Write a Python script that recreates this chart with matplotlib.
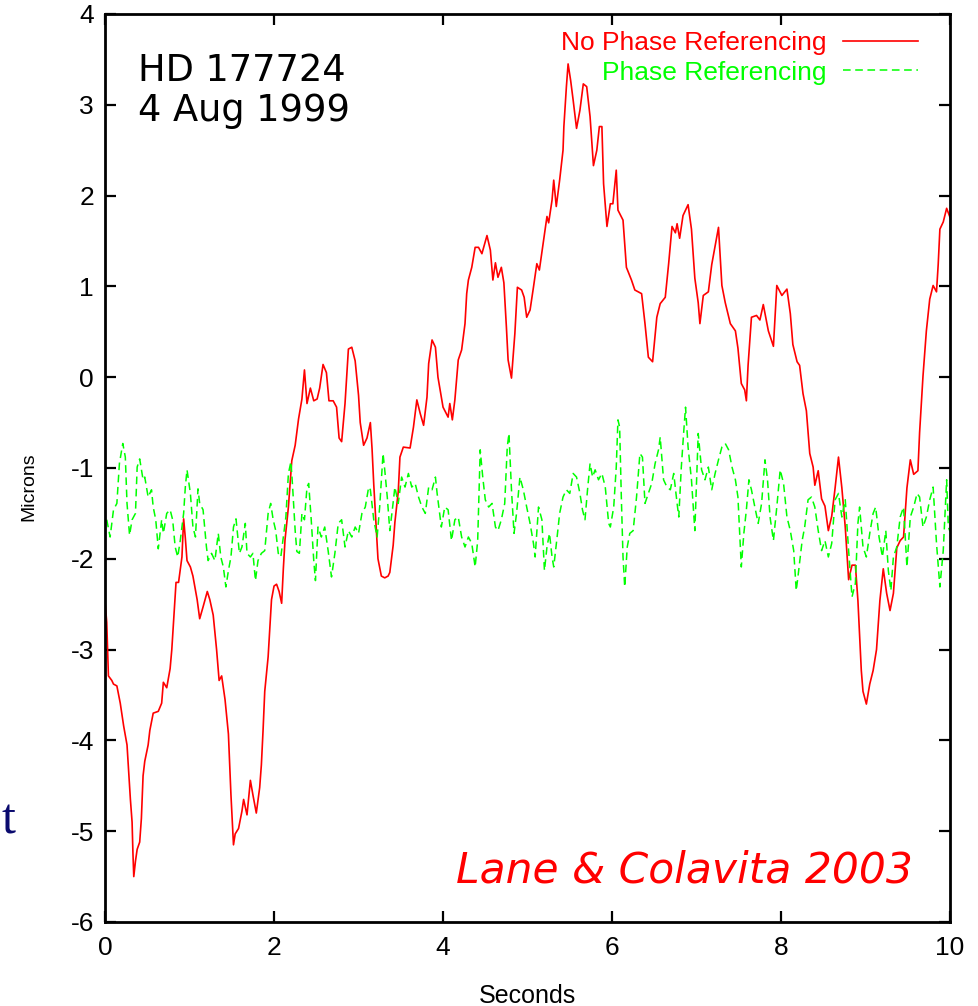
import matplotlib
matplotlib.use('Agg')
import matplotlib.pyplot as plt
import numpy as np

plt.rcParams['axes.unicode_minus'] = False
plt.rcParams['font.family'] = ['Liberation Sans', 'DejaVu Sans']

# optical path difference, no phase referencing (seconds, microns)
t_nopr = [0.00, 0.02, 0.04, 0.08, 0.10, 0.14, 0.18, 0.22, 0.26, 0.28, 0.30, 0.32, 0.33, 0.34,
          0.36, 0.38, 0.41, 0.43, 0.45, 0.47, 0.51, 0.53, 0.57, 0.63, 0.67, 0.69, 0.73, 0.77,
          0.79, 0.81, 0.84, 0.87, 0.91, 0.93, 0.95, 0.97, 1.01, 1.04, 1.09, 1.12, 1.16, 1.21,
          1.24, 1.28, 1.32, 1.35, 1.38, 1.42, 1.46, 1.49, 1.52, 1.54, 1.58, 1.62, 1.64, 1.68,
          1.72, 1.75, 1.79, 1.83, 1.85, 1.87, 1.89, 1.93, 1.97, 2.00, 2.03, 2.06, 2.09, 2.11,
          2.13, 2.17, 2.19, 2.21, 2.25, 2.29, 2.33, 2.36, 2.39, 2.43, 2.47, 2.51, 2.54, 2.58,
          2.62, 2.65, 2.70, 2.74, 2.77, 2.80, 2.84, 2.88, 2.92, 2.96, 3.00, 3.02, 3.06, 3.10,
          3.14, 3.16, 3.18, 3.21, 3.23, 3.27, 3.31, 3.35, 3.37, 3.41, 3.43, 3.47, 3.49, 3.53,
          3.61, 3.65, 3.69, 3.73, 3.77, 3.81, 3.83, 3.87, 3.91, 3.94, 4.00, 4.06, 4.08, 4.11,
          4.14, 4.18, 4.22, 4.26, 4.28, 4.30, 4.34, 4.38, 4.42, 4.46, 4.52, 4.56, 4.59, 4.62,
          4.65, 4.69, 4.72, 4.75, 4.77, 4.81, 4.85, 4.88, 4.93, 4.96, 4.99, 5.03, 5.07, 5.11,
          5.14, 5.19, 5.23, 5.25, 5.29, 5.31, 5.34, 5.38, 5.42, 5.43, 5.46, 5.48, 5.51, 5.54,
          5.58, 5.62, 5.66, 5.70, 5.74, 5.78, 5.82, 5.85, 5.88, 5.90, 5.94, 5.98, 6.01, 6.05,
          6.07, 6.13, 6.17, 6.23, 6.27, 6.35, 6.39, 6.43, 6.48, 6.53, 6.57, 6.63, 6.67, 6.71,
          6.75, 6.77, 6.80, 6.84, 6.90, 6.94, 6.98, 7.02, 7.04, 7.08, 7.14, 7.18, 7.26, 7.30,
          7.34, 7.40, 7.46, 7.49, 7.53, 7.57, 7.59, 7.61, 7.65, 7.71, 7.75, 7.79, 7.85, 7.91,
          7.95, 8.01, 8.07, 8.11, 8.14, 8.19, 8.22, 8.26, 8.30, 8.34, 8.38, 8.40, 8.44, 8.48,
          8.52, 8.56, 8.60, 8.64, 8.68, 8.72, 8.76, 8.80, 8.84, 8.88, 8.91, 8.95, 8.97, 9.01,
          9.05, 9.09, 9.13, 9.17, 9.21, 9.25, 9.29, 9.33, 9.37, 9.41, 9.45, 9.49, 9.53, 9.57,
          9.62, 9.64, 9.68, 9.72, 9.76, 9.80, 9.84, 9.86, 9.88, 9.92, 9.96, 10.00]
y_nopr = [-2.47, -2.70, -3.29, -3.34, -3.38, -3.40, -3.59, -3.84, -4.05, -4.35, -4.65, -4.90, -5.24, -5.50,
          -5.33, -5.20, -5.12, -4.86, -4.39, -4.23, -4.05, -3.89, -3.70, -3.68, -3.59, -3.36, -3.42, -3.21,
          -3.00, -2.70, -2.26, -2.26, -1.98, -1.56, -1.77, -2.02, -2.09, -2.19, -2.45, -2.66, -2.53, -2.36,
          -2.45, -2.62, -3.00, -3.34, -3.29, -3.55, -3.93, -4.60, -5.15, -5.03, -4.97, -4.78, -4.65, -4.82,
          -4.44, -4.60, -4.80, -4.52, -4.27, -3.89, -3.46, -3.08, -2.45, -2.30, -2.28, -2.36, -2.49, -2.11,
          -1.79, -1.43, -1.18, -0.92, -0.75, -0.46, -0.24, 0.08, -0.29, -0.12, -0.26, -0.24, -0.12, 0.14,
          0.05, -0.26, -0.26, -0.33, -0.67, -0.71, -0.29, 0.31, 0.33, 0.18, -0.20, -0.50, -0.75, -0.67,
          -0.50, -0.79, -1.18, -1.68, -2.00, -2.19, -2.21, -2.19, -2.15, -1.85, -1.60, -1.26, -0.88, -0.77,
          -0.78, -0.55, -0.25, -0.40, -0.53, -0.22, 0.15, 0.41, 0.33, 0.00, -0.33, -0.44, -0.29, -0.47,
          -0.25, 0.19, 0.30, 0.59, 0.92, 1.07, 1.21, 1.43, 1.43, 1.36, 1.56, 1.40, 1.07, 1.26,
          1.10, 1.21, 1.04, 0.55, 0.19, -0.01, 0.48, 0.99, 0.96, 0.88, 0.66, 0.74, 0.99, 1.25,
          1.18, 1.51, 1.77, 1.70, 1.95, 2.17, 1.88, 2.17, 2.50, 2.76, 3.20, 3.45, 3.27, 3.05,
          2.74, 2.94, 3.23, 3.20, 2.87, 2.33, 2.50, 2.76, 2.76, 2.13, 1.66, 1.91, 1.91, 2.28,
          1.84, 1.73, 1.21, 1.07, 0.96, 0.92, 0.59, 0.22, 0.17, 0.66, 0.81, 0.88, 1.25, 1.66,
          1.59, 1.69, 1.53, 1.78, 1.90, 1.63, 1.09, 0.82, 0.59, 0.90, 0.94, 1.24, 1.65, 1.01,
          0.82, 0.59, 0.51, 0.32, -0.07, -0.14, -0.26, 0.13, 0.66, 0.68, 0.63, 0.80, 0.51, 0.34,
          1.01, 0.90, 0.97, 0.70, 0.36, 0.17, 0.13, -0.18, -0.37, -0.84, -0.99, -1.19, -1.03, -1.34,
          -1.42, -1.69, -1.53, -1.22, -0.88, -1.22, -1.65, -2.23, -2.07, -2.07, -2.46, -3.23, -3.46, -3.60,
          -3.38, -3.23, -3.00, -2.46, -2.11, -2.38, -2.57, -2.38, -1.88, -1.80, -1.76, -1.22, -0.91, -1.07,
          -1.03, -0.61, 0.01, 0.51, 0.86, 1.01, 0.94, 1.24, 1.63, 1.71, 1.86, 1.76]

# with phase referencing
t_pr = [0.02, 0.06, 0.10, 0.14, 0.17, 0.21, 0.24, 0.26, 0.29, 0.32, 0.36, 0.38, 0.41, 0.45,
        0.47, 0.51, 0.55, 0.57, 0.60, 0.63, 0.67, 0.69, 0.73, 0.77, 0.80, 0.83, 0.86, 0.89,
        0.93, 0.95, 0.97, 1.01, 1.04, 1.07, 1.10, 1.12, 1.16, 1.20, 1.22, 1.26, 1.30, 1.34,
        1.37, 1.40, 1.43, 1.46, 1.49, 1.52, 1.55, 1.59, 1.62, 1.66, 1.68, 1.72, 1.75, 1.78,
        1.81, 1.85, 1.89, 1.93, 1.96, 1.99, 2.02, 2.05, 2.08, 2.11, 2.14, 2.17, 2.20, 2.22,
        2.25, 2.27, 2.30, 2.33, 2.36, 2.39, 2.41, 2.44, 2.47, 2.49, 2.52, 2.56, 2.60, 2.64,
        2.68, 2.72, 2.76, 2.80, 2.84, 2.88, 2.92, 2.96, 3.00, 3.04, 3.08, 3.12, 3.14, 3.18,
        3.22, 3.25, 3.29, 3.31, 3.34, 3.37, 3.40, 3.43, 3.47, 3.51, 3.55, 3.59, 3.63, 3.67,
        3.71, 3.75, 3.79, 3.83, 3.87, 3.91, 3.93, 3.98, 4.02, 4.06, 4.10, 4.14, 4.18, 4.22,
        4.26, 4.30, 4.34, 4.38, 4.41, 4.44, 4.47, 4.50, 4.54, 4.58, 4.62, 4.65, 4.69, 4.73,
        4.76, 4.78, 4.81, 4.84, 4.87, 4.91, 4.95, 4.99, 5.03, 5.07, 5.09, 5.13, 5.17, 5.20,
        5.23, 5.26, 5.29, 5.31, 5.35, 5.38, 5.42, 5.46, 5.50, 5.54, 5.58, 5.62, 5.65, 5.68,
        5.71, 5.74, 5.77, 5.80, 5.84, 5.88, 5.92, 5.96, 5.98, 6.02, 6.05, 6.07, 6.09, 6.11,
        6.13, 6.15, 6.18, 6.21, 6.25, 6.29, 6.33, 6.36, 6.39, 6.43, 6.47, 6.51, 6.55, 6.57,
        6.61, 6.65, 6.69, 6.73, 6.77, 6.79, 6.82, 6.85, 6.87, 6.90, 6.94, 6.98, 7.02, 7.06,
        7.10, 7.14, 7.18, 7.22, 7.26, 7.30, 7.34, 7.38, 7.42, 7.46, 7.49, 7.53, 7.56, 7.59,
        7.62, 7.65, 7.69, 7.73, 7.77, 7.81, 7.84, 7.87, 7.91, 7.95, 7.99, 8.03, 8.07, 8.11,
        8.15, 8.18, 8.20, 8.25, 8.28, 8.32, 8.36, 8.40, 8.44, 8.48, 8.52, 8.56, 8.60, 8.64,
        8.68, 8.72, 8.76, 8.80, 8.84, 8.88, 8.91, 8.93, 8.97, 9.01, 9.05, 9.09, 9.12, 9.16,
        9.20, 9.24, 9.27, 9.30, 9.33, 9.37, 9.41, 9.45, 9.49, 9.53, 9.57, 9.61, 9.64, 9.68,
        9.72, 9.76, 9.80, 9.84, 9.88, 9.92, 9.96, 9.98, 10.00]
y_pr = [-1.57, -1.76, -1.46, -1.39, -0.95, -0.73, -0.88, -1.39, -1.74, -1.57, -1.50, -0.99, -0.90, -1.13,
        -1.10, -1.32, -1.24, -1.43, -1.57, -1.89, -1.57, -1.72, -1.50, -1.46, -1.57, -1.87, -1.98, -1.80,
        -1.50, -1.21, -1.02, -1.28, -1.65, -1.76, -1.23, -1.39, -1.46, -1.87, -2.02, -1.94, -2.02, -1.72,
        -1.98, -2.09, -2.31, -2.13, -1.98, -1.65, -1.56, -1.94, -1.87, -1.61, -1.94, -1.98, -1.94, -2.24,
        -2.02, -1.94, -1.91, -1.50, -1.39, -1.57, -1.69, -1.94, -1.98, -1.76, -1.54, -1.06, -0.93, -1.21,
        -1.69, -1.92, -1.94, -1.50, -1.57, -1.21, -1.17, -1.57, -2.02, -2.24, -1.65, -1.76, -1.65, -1.91,
        -2.20, -1.94, -1.61, -1.57, -1.87, -1.69, -1.76, -1.65, -1.72, -1.50, -1.43, -1.21, -1.24, -1.57,
        -1.76, -1.43, -0.84, -1.02, -1.32, -1.69, -1.46, -1.21, -1.39, -1.10, -1.21, -1.06, -1.21, -1.17,
        -1.32, -1.43, -1.50, -1.21, -1.24, -1.10, -1.28, -1.65, -1.43, -1.46, -1.80, -1.57, -1.54, -1.76,
        -1.87, -1.76, -1.83, -2.09, -1.80, -0.80, -1.10, -1.35, -1.43, -1.39, -1.65, -1.69, -1.57, -1.39,
        -0.77, -0.62, -1.24, -1.72, -1.50, -1.10, -1.24, -1.43, -1.61, -1.83, -1.98, -1.43, -1.57, -2.13,
        -1.87, -1.72, -1.98, -2.09, -1.76, -1.50, -1.32, -1.24, -1.28, -1.06, -1.10, -1.28, -1.46, -1.57,
        -1.24, -0.95, -1.10, -1.02, -1.13, -1.06, -1.21, -1.61, -1.65, -1.43, -0.99, -0.47, -0.55, -1.32,
        -1.98, -2.31, -1.87, -1.72, -1.69, -1.32, -0.84, -0.88, -1.39, -1.28, -1.17, -0.95, -0.80, -0.66,
        -1.13, -1.21, -1.24, -1.06, -1.39, -1.54, -0.99, -0.58, -0.33, -0.77, -1.13, -1.69, -0.62, -1.02,
        -1.13, -0.99, -1.24, -1.06, -0.91, -0.77, -0.73, -0.80, -0.99, -1.13, -1.32, -2.09, -1.72, -1.46,
        -1.13, -1.24, -1.43, -1.61, -1.39, -0.91, -1.13, -1.54, -1.80, -1.43, -1.02, -1.17, -1.54, -1.69,
        -1.91, -2.35, -2.20, -1.80, -1.65, -1.35, -1.32, -1.43, -1.69, -1.91, -1.80, -1.98, -1.83, -1.35,
        -1.28, -1.54, -1.35, -1.91, -2.42, -2.27, -1.61, -1.43, -1.87, -1.98, -1.72, -1.50, -1.43, -1.76,
        -1.98, -1.69, -2.13, -2.35, -1.98, -1.87, -1.54, -1.43, -2.09, -1.54, -1.43, -1.28, -1.32, -1.65,
        -1.54, -1.35, -1.21, -1.83, -2.31, -1.91, -1.13, -1.65, -1.70]

yticks = np.arange(-6, 5, 1)
xticks = np.arange(0, 11, 2)

fig = plt.figure(figsize=(9.79, 10.06), dpi=100)
ax = fig.add_axes([0.1073, 0.0835, 0.8631, 0.9026])

ax.plot(t_nopr, y_nopr, color='#ff0000', lw=1.2, label='No Phase Referencing')
green, = ax.plot(t_pr, y_pr, color='#00ff00', lw=1.1, label='Phase Referencing')
green.set_dashes([5, 3])

ax.set_xlim(0, 10)
ax.set_ylim(-6, 4)
ax.set_xticks(xticks)
ax.set_yticks(yticks)
ax.set_xticklabels([str(v) for v in xticks])
ax.set_yticklabels([str(v) for v in yticks])
ax.tick_params(direction='in', length=8, width=1.6, top=True, right=True,
               labelsize=19)
ax.tick_params(axis='y', pad=8)
ax.tick_params(axis='x', pad=10)
for s in ax.spines.values():
    s.set_linewidth(2.0)

ax.set_xlabel('Seconds', fontsize=18)
ax.xaxis.set_label_coords(0.5, -0.068)
ax.set_ylabel('Microns', fontsize=14)
ax.yaxis.set_label_coords(-0.08, 0.479)

leg = ax.legend(loc='upper right', bbox_to_anchor=(0.962, 0.981), frameon=False,
                markerfirst=False, fontsize=19, handlelength=2.84, handletextpad=0.64,
                labelspacing=0.2, borderpad=0, borderaxespad=0, labelcolor='linecolor')

ax.text(0.039, 0.958, 'HD 177724\n4 Aug 1999', transform=ax.transAxes, ha='left', va='top',
        fontsize=26.5, family='DejaVu Sans', linespacing=1.1)
ax.text(0.956, 0.043, 'Lane & Colavita 2003', transform=ax.transAxes, ha='right',
        va='baseline', fontsize=30.5, family='DejaVu Sans', style='italic', color='#ff0000')

fig.text(1 / 979, 1 - 833 / 1006, 't', ha='left', va='baseline', fontsize=36,
         family='Liberation Serif', color='#0a0a6e')

fig.savefig('out.png', dpi=100)
